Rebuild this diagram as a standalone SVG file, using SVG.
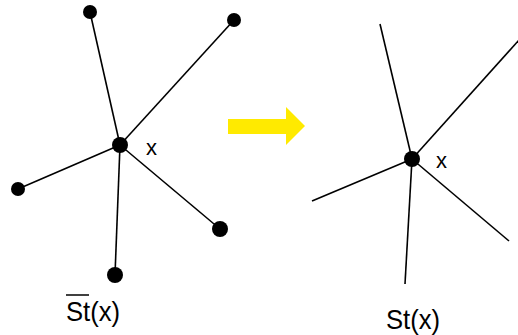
<svg xmlns="http://www.w3.org/2000/svg" width="518" height="335" viewBox="0 0 518 335">
<style>
.e{stroke:#000;stroke-width:1.6;fill:none}
.n{fill:#000}
.t{font-family:"Liberation Sans",Arial,sans-serif;fill:#000}
</style>
<rect width="518" height="335" fill="#fff"/>
<g id="connectors">
<line class="e" x1="120" y1="145" x2="90" y2="12"/>
<line class="e" x1="120" y1="145" x2="234" y2="20"/>
<line class="e" x1="120" y1="145" x2="18" y2="189"/>
<line class="e" x1="120" y1="145" x2="220" y2="229"/>
<line class="e" x1="120" y1="145" x2="115" y2="275"/>
<line class="e" x1="412" y1="159" x2="380" y2="24"/>
<line class="e" x1="412" y1="159" x2="519" y2="40"/>
<line class="e" x1="412" y1="159" x2="312" y2="201"/>
<line class="e" x1="412" y1="159" x2="509" y2="241"/>
<line class="e" x1="412" y1="159" x2="405" y2="284"/>
</g>
<g id="closed-star">
<circle class="n" cx="120" cy="145" r="8"/>
<circle class="n" cx="90" cy="12" r="7"/>
<circle class="n" cx="234" cy="20" r="7"/>
<circle class="n" cx="18" cy="189" r="7"/>
<circle class="n" cx="220" cy="229" r="8"/>
<circle class="n" cx="115" cy="275" r="8"/>
<text class="t" x="146" y="155" font-size="22">x</text>
<text class="t" transform="translate(66,321) scale(0.95,1)" font-size="27">St(x)</text>
<line x1="66" y1="295" x2="89" y2="295" stroke="#000" stroke-width="1.5"/>
</g>
<g id="open-star">
<circle class="n" cx="412" cy="159" r="8"/>
<text class="t" x="436" y="168" font-size="22">x</text>
<text class="t" transform="translate(386,329) scale(0.95,1)" font-size="27">St(x)</text>
</g>
<g id="arrow">
<polygon fill="#ffea00" points="228,119 286,119 286,107 305,126 286,145 286,134 228,134"/>
</g>
</svg>
